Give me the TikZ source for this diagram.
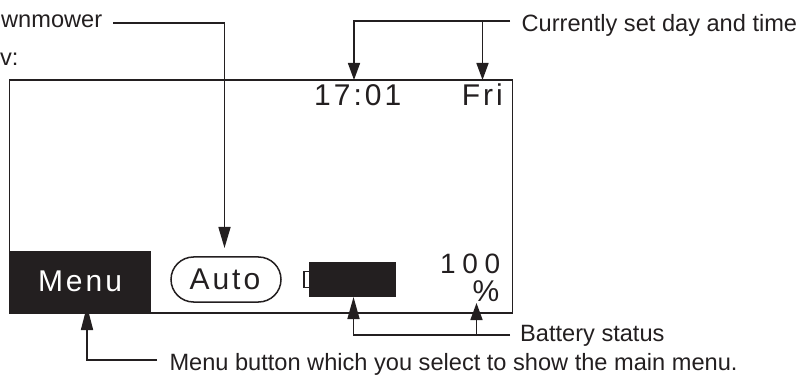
\documentclass[tikz,border=0pt]{standalone}
\usepackage{fontspec}
\setmainfont{Liberation Sans}
\usetikzlibrary{arrows.meta,shapes.misc}
\definecolor{ink}{RGB}{35,31,32}
\newcommand{\ls}{\kern3pt}
\begin{document}
\begin{tikzpicture}[x=1pt,y=-1pt,
  lbl/.style={inner sep=0pt,anchor=base west,text=ink,font=\fontsize{23.6}{28}\selectfont},
  scr/.style={inner sep=0pt,anchor=base west,text=ink,font=\fontsize{30}{35}\selectfont},
  conn/.style={draw=ink,line width=1.6pt},
  arr/.style={conn,-{Triangle[length=#1,width=12pt]}},
  arr/.default=18pt]
\useasboundingbox (0,0) rectangle (808,379);
% screen
\draw[ink,line width=1.5pt] (9.5,80) rectangle (512.5,313);
\fill[ink] (9.5,251) rectangle (151,313.75);
\fill[ink] (309,262) rectangle (396,297);
\draw[ink,line width=1.2pt] (308.5,271.5) -- (304,271.5) -- (304,287.5) -- (308.5,287.5);
\node[draw=ink,line width=1.5pt,rounded rectangle,minimum width=110pt,minimum height=45pt,inner sep=0pt] (autobox) at (226,279.5) {};
% screen texts
\node[scr,text=white] (menu) at (37.8,291.5) {M\ls e\ls n\ls u};
\node[scr] (auto) at (189.3,290) {A\ls u\ls t\ls o};
\node[scr] (time) at (314,106) {1\ls 7\ls :\ls 0\ls 1};
\node[scr] (fri) at (461.6,106) {F\ls r\ls i};
\node[scr,font=\fontsize{28}{32}\selectfont] (pct) at (440,273.3) {1\kern6.7pt 0\kern6.7pt 0};
\node[scr] (pcts) at (472.3,301.7) {\%};
% labels
\node[lbl] (mow) at (1,28) {wnmower};
\node[lbl] (mow2) at (0,65.5) {v:};
\node[lbl] (cur) at (521.5,31.7) {Currently set day and time};
\node[lbl] (bat) at (520,341.7) {Battery status};
\node[lbl] (mbtn) at (169.3,370.5) {Menu button which you select to show the main menu.};
% connector coordinates
\coordinate (m1) at (113,23);
\coordinate (m2) at (224.5,248);
\coordinate (tj) at (510,21);
\coordinate (t1) at (354,80);
\coordinate (t2) at (482.5,80);
\coordinate (bj) at (510,335);
\coordinate (b1) at (353.5,297);
\coordinate (b2) at (476.5,303);
\coordinate (mj) at (157,360);
\coordinate (mt) at (87,306);
% connectors
\draw[arr=21pt] (m1) -| (m2);
\draw[arr=17pt] (tj) -| (t1);
\draw[arr=17pt] (t2 |- tj) -- (t2);
\draw[arr=22pt] (bj) -| (b1);
\draw[arr=17pt] (b2 |- bj) -- (b2);
\draw[arr=24pt] (mj) -| (mt);
\end{tikzpicture}
\end{document}
